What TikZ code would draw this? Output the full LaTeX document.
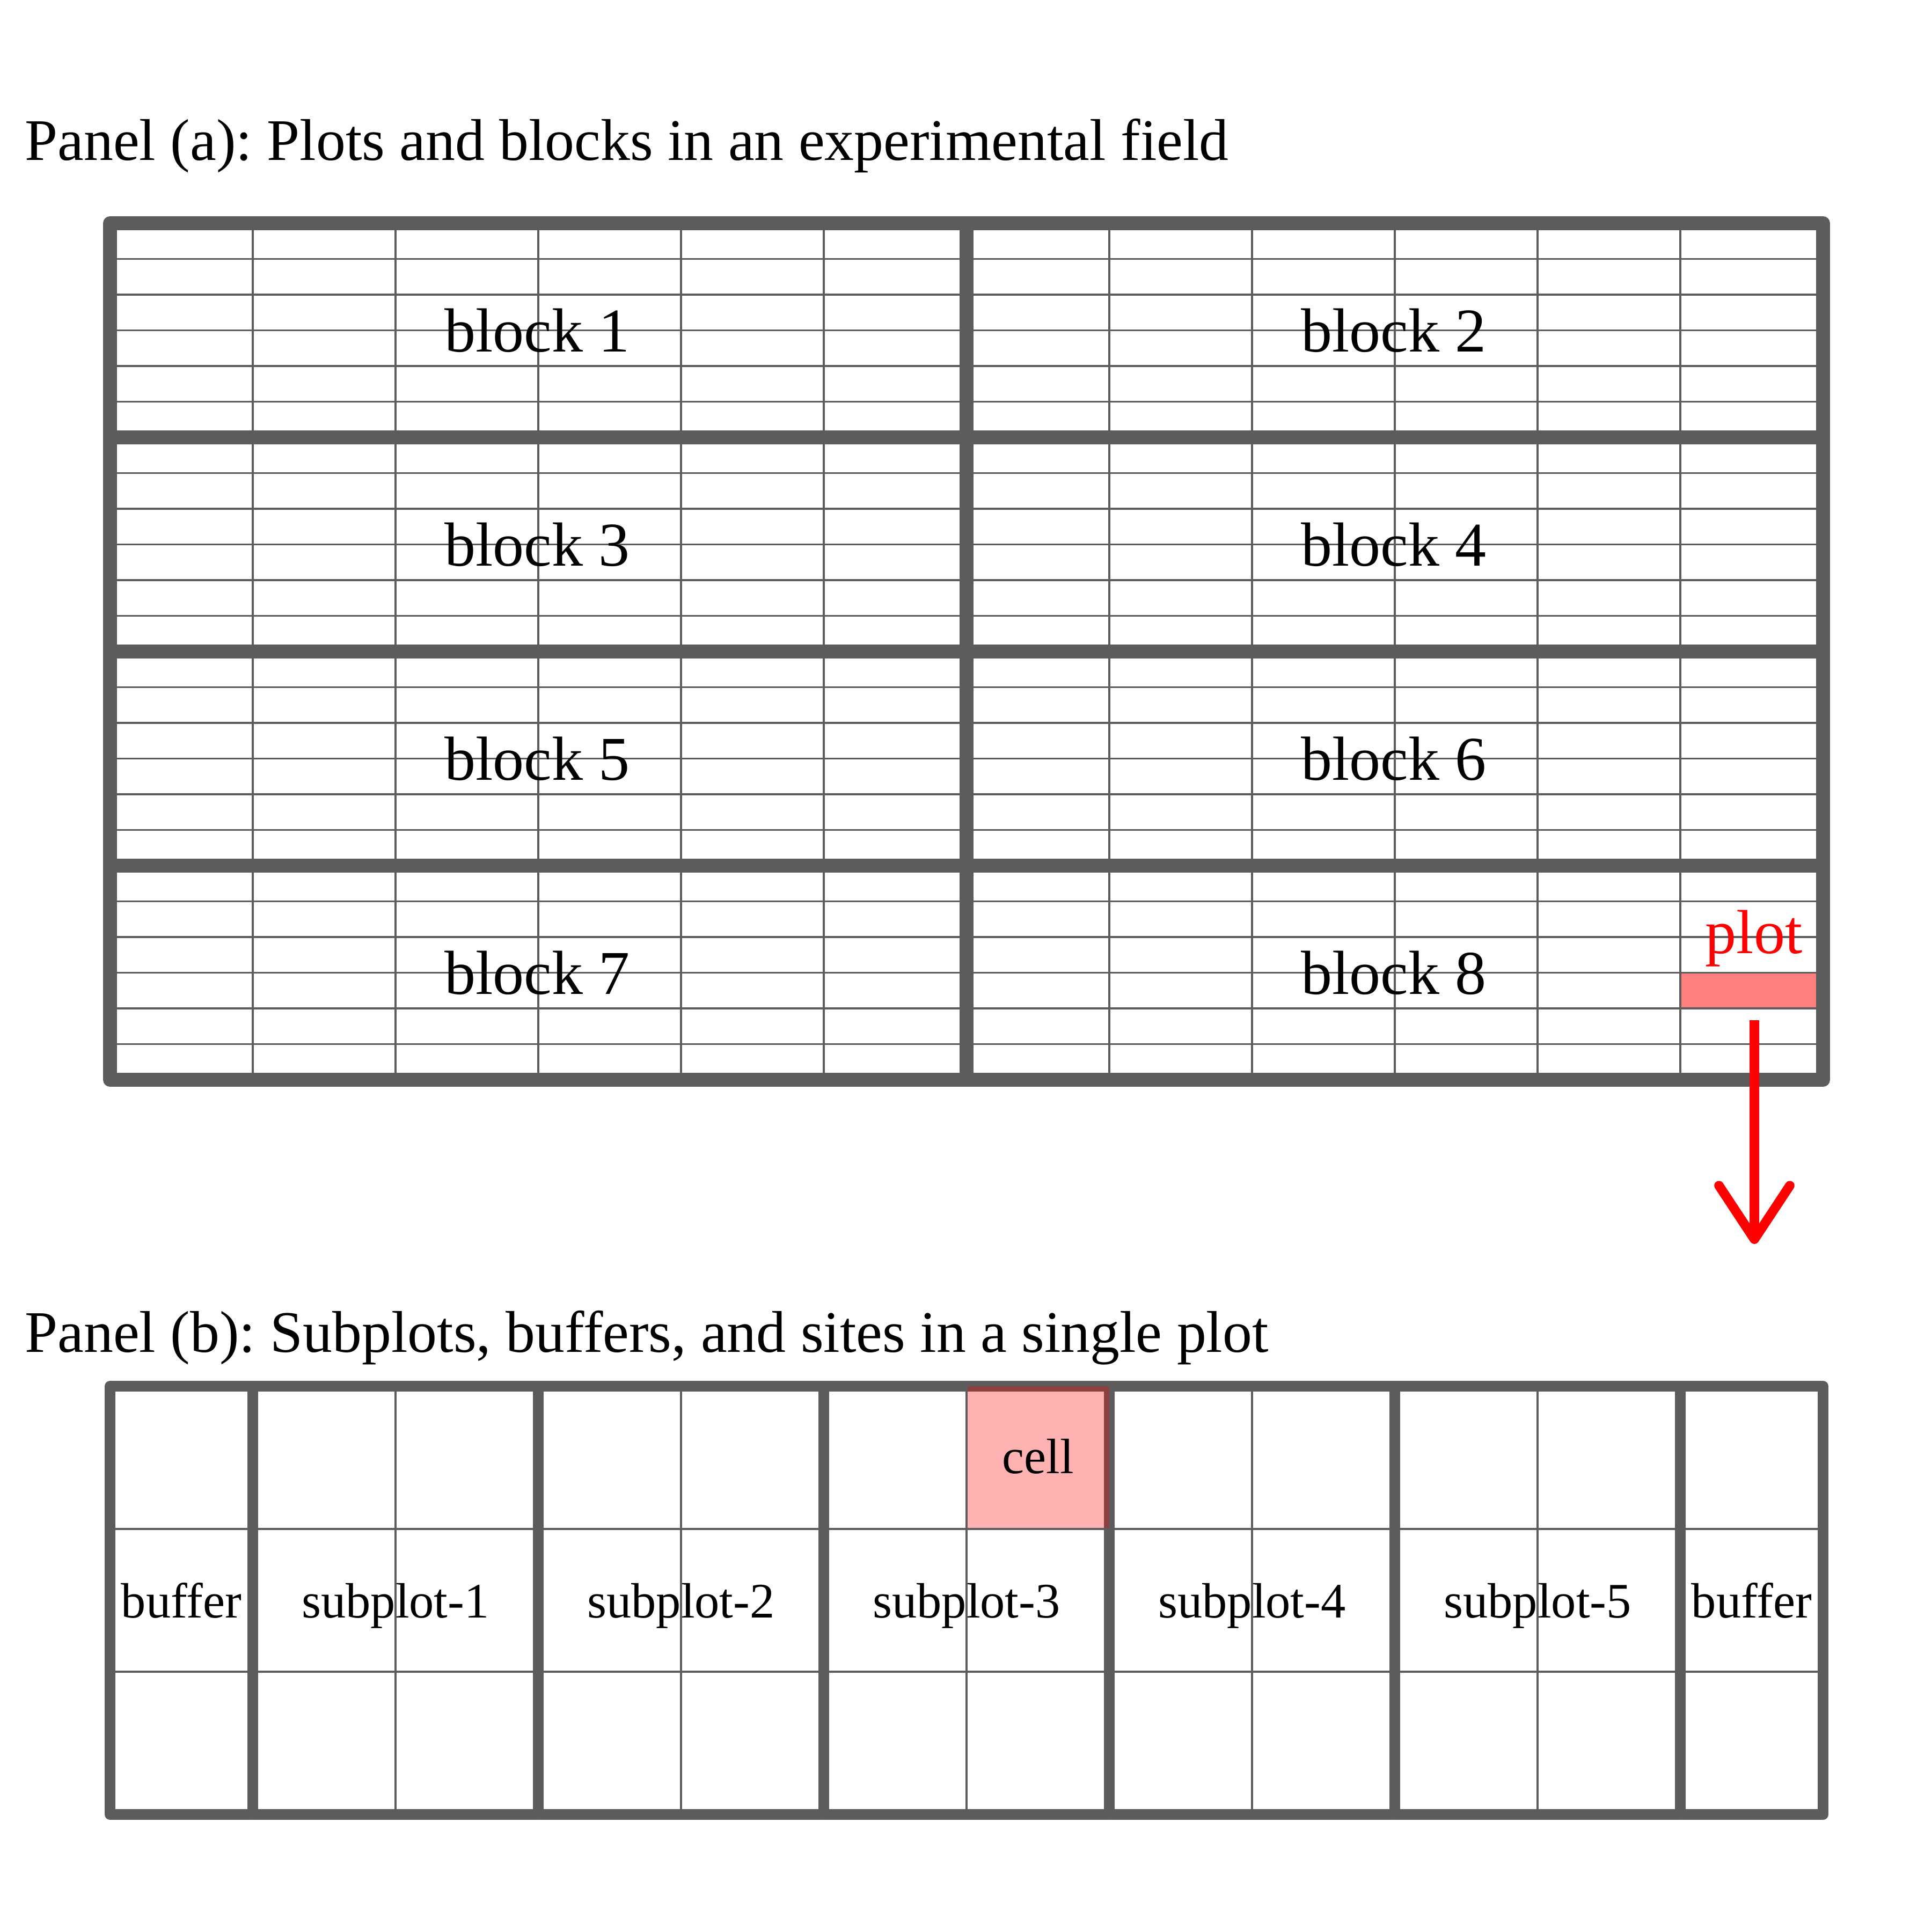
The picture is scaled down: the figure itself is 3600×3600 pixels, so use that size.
\documentclass[tikz,border=0pt]{standalone}
\usepackage{fontspec}
\setmainfont{Liberation Serif}
\usetikzlibrary{arrows.meta}
\frenchspacing

\definecolor{gridgray}{RGB}{92,92,92}

\begin{document}
\begin{tikzpicture}[x=0.01cm, y=-0.01cm]

\tikzstyle{title}=[anchor=base west, inner sep=0pt, font=\fontsize{31.2}{38}\selectfont]
\tikzstyle{blocklabel}=[anchor=base, inner sep=0pt, font=\fontsize{33}{40}\selectfont]
\tikzstyle{sitelabel}=[anchor=base, inner sep=0pt, font=\fontsize{26.3}{32}\selectfont]
\tikzstyle{thinline}=[draw=gridgray, line width=1pt]
\tikzstyle{thickline}=[draw=gridgray, line width=7.4pt, line cap=round, line join=round]
\tikzstyle{midline}=[draw=gridgray, line width=5.7pt, line cap=round, line join=round]
\tikzstyle{plotfill}=[rectangle, fill=red, fill opacity=0.5, inner sep=0pt, minimum width=2.66cm, minimum height=0.665cm]
\tikzstyle{cellfill}=[rectangle, fill=red, fill opacity=0.3, inner sep=0pt, minimum width=2.66cm, minimum height=2.66cm]
\tikzstyle{edge1}=[draw=red, line width=5pt, -{Straight Barb[length=1cm, width=1.32cm, round]}]

\useasboundingbox (0,0) rectangle (3600,3600);

% panel (a)
\node[title] (titlea) at (46, 298) {Panel (a): Plots and blocks in an experimental field};

\node[plotfill] (plotcell) at (3264, 1846) {};

\foreach \k in {1,...,23} \draw[thinline] (205,{416+\k*66.5}) -- (3397,{416+\k*66.5});
\foreach \k in {1,...,11} \draw[thinline] ({205+\k*266},416) -- ({205+\k*266},2012);

\draw[thickline] (205,416) rectangle (3397,2012);
\draw[thickline] (1801,416) -- (1801,2012);
\foreach \y in {815,1214,1613} \draw[thickline] (205,\y) -- (3397,\y);

\node[blocklabel] (block1) at (1001, 655) {block 1};
\node[blocklabel] (block2) at (2597, 655) {block 2};
\node[blocklabel] (block3) at (1001, 1054) {block 3};
\node[blocklabel] (block4) at (2597, 1054) {block 4};
\node[blocklabel] (block5) at (1001, 1453) {block 5};
\node[blocklabel] (block6) at (2597, 1453) {block 6};
\node[blocklabel] (block7) at (1001, 1852) {block 7};
\node[blocklabel] (block8) at (2597, 1852) {block 8};
\node[blocklabel, text=red] (plotlabel) at (3268, 1776) {plot};

\coordinate (arrowtip) at (3269, 2318);
\draw[edge1, shorten <=0.21cm] (plotcell.south -| arrowtip) -- (arrowtip);

% panel (b)
\node[title] (titleb) at (46, 2519) {Panel (b): Subplots, buffers, and sites in a single plot};

\draw[midline] (205,2583) rectangle (3397,3381);
\foreach \k in {1,3,5,7,9,11} \draw[midline] ({205+\k*266},2583) -- ({205+\k*266},3381);

\node[cellfill] (cell) at (1934, 2716) {};

\foreach \k in {2,4,6,8,10} \draw[thinline] ({205+\k*266},2583) -- ({205+\k*266},3381);
\foreach \y in {2849,3115} \draw[thinline] (205,\y) -- (3397,\y);

\node[sitelabel] (celllabel) at (1934, 2745) {cell};
\node[sitelabel] (buffer1) at (338, 3014) {buffer};
\node[sitelabel] (subplot1) at (737, 3014) {subplot-1};
\node[sitelabel] (subplot2) at (1269, 3014) {subplot-2};
\node[sitelabel] (subplot3) at (1801, 3014) {subplot-3};
\node[sitelabel] (subplot4) at (2333, 3014) {subplot-4};
\node[sitelabel] (subplot5) at (2865, 3014) {subplot-5};
\node[sitelabel] (buffer2) at (3264, 3014) {buffer};

\end{tikzpicture}
\end{document}
